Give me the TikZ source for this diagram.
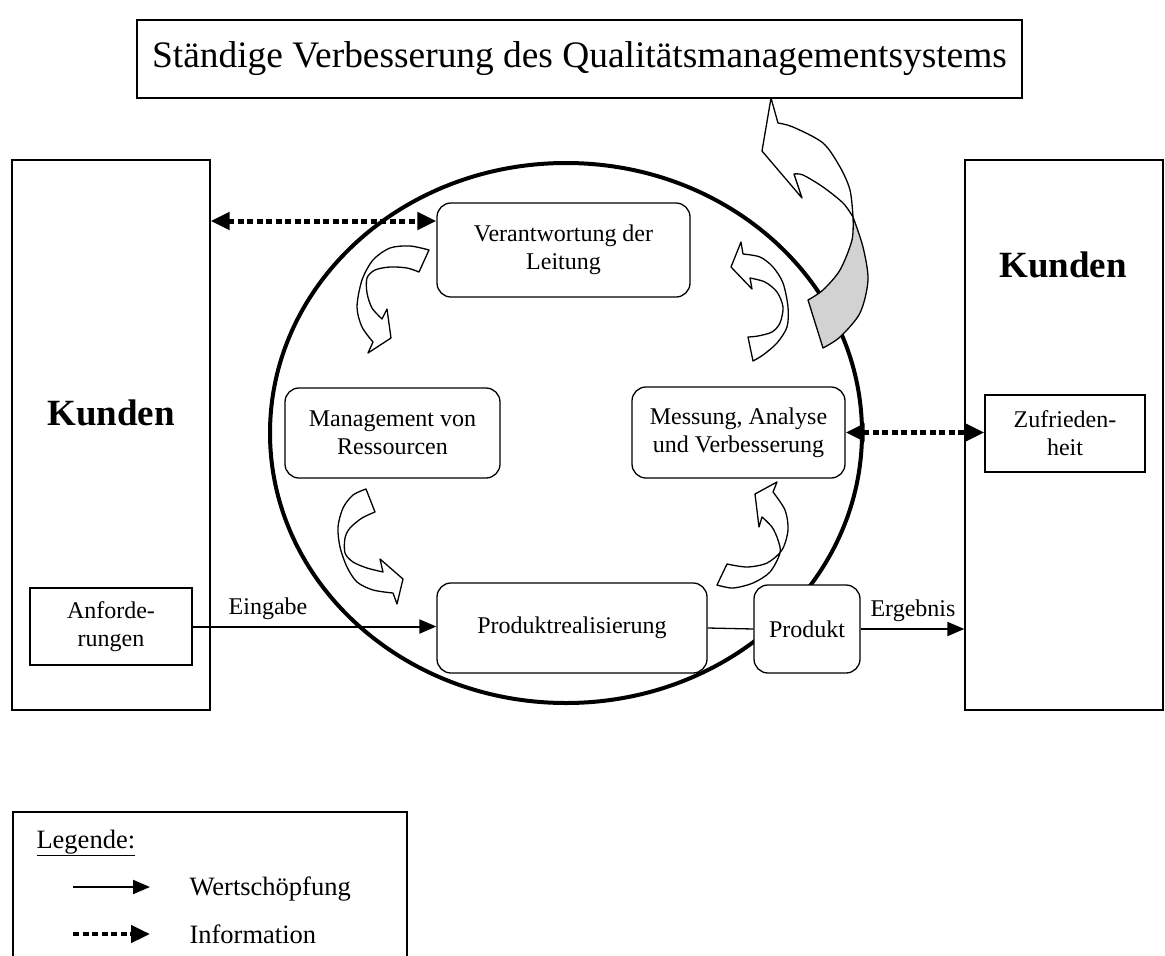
\documentclass[tikz,border=0pt]{standalone}
\usepackage{fontspec}
\setmainfont{Liberation Serif}
\usepackage{tikz}
\usetikzlibrary{arrows.meta,positioning,calc}
\tikzset{
	kasten/.style={draw, line width=1.3pt, fill=white, align=center, inner sep=0pt, font=\fontsize{24}{28}\selectfont},
	rkasten/.style={kasten, rounded corners=14pt},
	wert/.style={line width=2pt, -{Triangle[length=17pt,width=14pt]}},
	info/.style={line width=5pt, dash pattern=on 6pt off 3.5pt},
	infotip/.tip={Triangle[length=19pt,width=17pt]},
	pfeil/.style={draw, line width=1.3pt, fill=white, line join=round},
	txt/.style={font=\fontsize{24}{28}\selectfont},
	legtxt/.style={anchor=base west, font=\fontsize{26.5}{30}\selectfont}
}

\begin{document}
\begin{tikzpicture}[x=1pt,y=-1pt]
	\useasboundingbox (0,0) rectangle (1165,956);
	\node[kasten, minimum width=885pt, minimum height=78pt, font=\fontsize{37.4}{44}\selectfont] (titel) at (579.5,59) {Ständige Verbesserung des Qualitätsmanagementsystems};
	\node[kasten, minimum width=198pt, minimum height=550pt] (kundenL) at (111,435) {};
	\node[kasten, minimum width=198pt, minimum height=550pt] (kundenR) at (1064,435) {};
	\node[font=\bfseries\fontsize{37}{44}\selectfont] (kunden1) at (111,413) {Kunden};
	\node[font=\bfseries\fontsize{37}{44}\selectfont] (kunden2) at (1063,265) {Kunden};
	\node[kasten, minimum width=162pt, minimum height=77pt] (anf) at (111,626.5) {Anforde-\\rungen};
	\node[kasten, minimum width=160pt, minimum height=77pt] (zufr) at (1065,433.5) {Zufrieden-\\heit};

	\draw[line width=4pt] (566,433) ellipse [x radius=296pt, y radius=270pt];
	\draw[pfeil, fill=gray!35] plot[smooth] coordinates {(853,217) (852,240) (840,270) (823,290) (808,300)} -- plot[smooth] coordinates {(823,348) (840,337) (860,313) (868,280) (863,247) (853,217)} -- cycle;
	\draw[pfeil] plot[smooth] coordinates {(853,217) (850,190) (840,167) (823,143) (793,127) (778,123)} -- (771,98) -- (762,151) -- (802,198) -- plot[smooth] coordinates {(794,174) (803,175) (823,187) (843,203) (853,217)} -- cycle;

	\node[rkasten, minimum width=253pt, minimum height=94pt] (leitung) at (563.5,250) {Verantwortung der\\Leitung};
	\node[rkasten, minimum width=215pt, minimum height=90pt] (mgmt) at (392.5,433) {Management von\\Ressourcen};
	\node[rkasten, minimum width=213pt, minimum height=91pt] (messung) at (738.5,432.5) {Messung, Analyse\\und Verbesserung};
	\node[rkasten, minimum width=270pt, minimum height=90pt] (prod) at (572,628) {Produktrealisierung};
	\node[rkasten, minimum width=106pt, minimum height=88pt] (produkt) at (807,629) {Produkt};

	\draw[pfeil] plot[smooth] coordinates {(429,250) (410,246) (390,248) (373,260) (362,280) (357,307) (362,327) (373,342)} -- (368,353) -- (391,338) -- (387,309) -- plot[smooth] coordinates {(382,319) (372,308) (367,293) (367,278) (375,270) (390,267) (407,268) (419,272)} -- cycle;
	\draw[pfeil] plot[smooth] coordinates {(743,254) (760,257) (773,267) (783,283) (788,307) (787,327) (777,343) (763,355) (753,361)} -- plot[smooth] coordinates {(748,337) (758,336) (772,332) (780,323) (783,307) (777,292) (765,282) (750,278)} -- (752,289) -- (731,267) -- (741,242) -- cycle;
	\draw[pfeil] plot[smooth] coordinates {(366,489) (353,495) (343,508) (338,527) (340,547) (347,567) (357,582) (373,590) (393,593)} -- (397,604) -- (403,579) -- (380,559) -- plot[smooth] coordinates {(383,572) (367,568) (353,562) (345,553) (345,538) (350,528) (362,518) (375,512)} -- cycle;
	\draw[pfeil] plot[smooth] coordinates {(773,492) (785,510) (788,530) (782,550) (767,563) (747,567) (727,564)} -- plot[smooth] coordinates {(717,585) (733,588) (753,583) (770,572) (780,553) (778,540) (772,527) (762,517)} -- (759,527) -- (755,494) -- (777,482) -- cycle;

	\coordinate (i1) at ([yshift=29pt]leitung.west);
	\draw[info, infotip-infotip] (kundenL.east |- i1) -- (i1);
	\draw[info, infotip-infotip] (messung.east) -- (messung.east -| zufr.west);
	\draw[wert] (anf.east) -- (anf.east -| prod.west);
	\draw[line width=1.3pt] (prod.east) -- (produkt.west);
	\draw[wert] (produkt.east) -- (produkt.east -| kundenR.west);
	\node[txt, anchor=base] (eingabe) at (268,614) {Eingabe};
	\node[txt, anchor=base] (ergebnis) at (913,616) {Ergebnis};

	\draw[line width=1.3pt] (13,960) -- (13,812) -- (407,812) -- (407,960);
	\node[legtxt] (legende) at (33,848) {\underline{Legende:}};
	\coordinate (w1) at (73,887);
	\coordinate (w2) at (150,887);
	\draw[wert] (w1) -- (w2);
	\node[legtxt] (wtext) at (186,895) {Wertschöpfung};
	\coordinate (n1) at (73,934);
	\coordinate (n2) at (150,934);
	\draw[info, line width=4.5pt, -infotip] (n1) -- (n2);
	\node[legtxt] (ntext) at (186,943) {Information};
\end{tikzpicture}
\end{document}
